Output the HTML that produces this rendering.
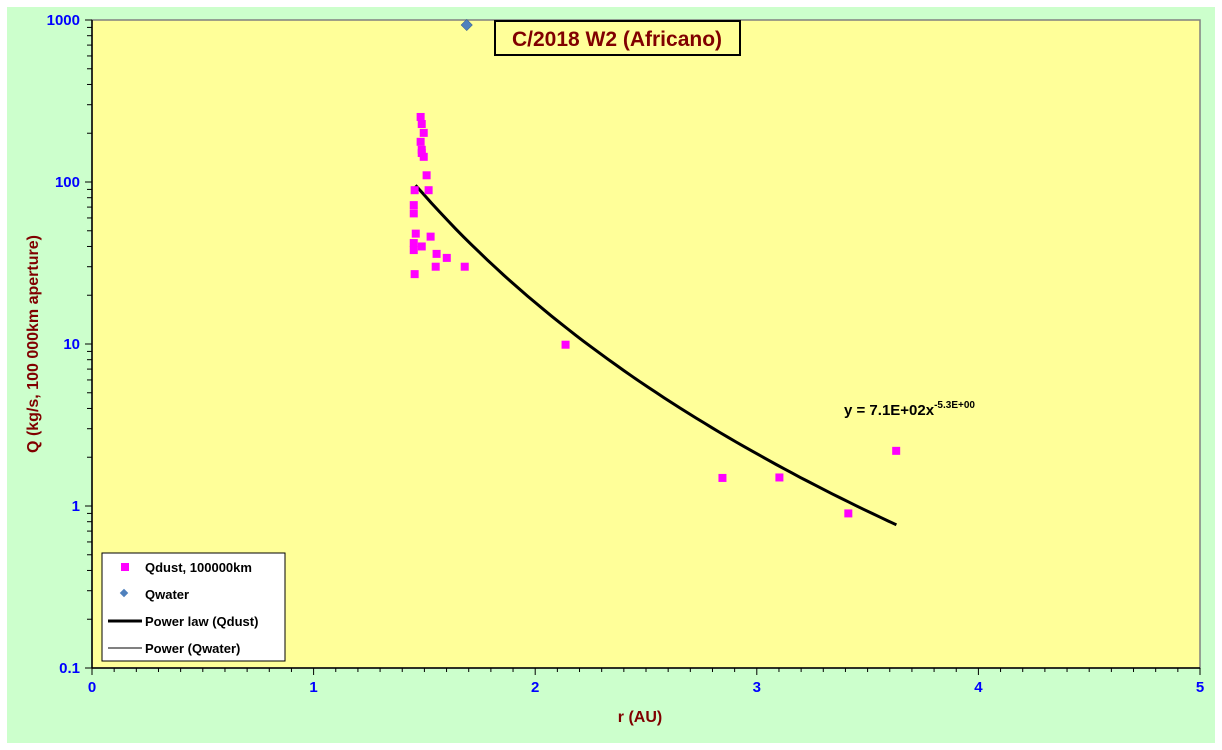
<!DOCTYPE html>
<html><head><meta charset="utf-8"><style>
body{margin:0;background:#fff;}
svg{display:block;font-family:"Liberation Sans",Arial,sans-serif;}
</style></head><body>
<svg id="chart" width="1222" height="750">
<rect x="7" y="7" width="1208" height="736" fill="#ccffcc"/>
<rect x="92" y="20" width="1108" height="648" fill="#ffff99" stroke="#808080" stroke-width="1.5"/>
<g id="axes"></g>
<g id="marks"></g>
<g>
<rect x="495" y="21" width="245" height="34" fill="#ffff99" stroke="#000" stroke-width="2"/>
<text x="617" y="46" text-anchor="middle" font-size="21" font-weight="bold" fill="#800000">C/2018 W2 (Africano)</text>
</g>
<text x="844" y="415" font-size="15" font-weight="bold" fill="#000">y = 7.1E+02x<tspan font-size="10" dy="-7">-5.3E+00</tspan></text>
<text x="640" y="722" text-anchor="middle" font-size="16" font-weight="bold" fill="#800000">r (AU)</text>
<text transform="translate(38,344) rotate(-90)" text-anchor="middle" font-size="16" font-weight="bold" fill="#800000">Q (kg/s, 100 000km aperture)</text>
<g>
<rect x="102" y="553" width="183" height="108" fill="#fff" stroke="#000" stroke-width="1"/>
<rect x="121" y="563" width="8" height="8" fill="#ff00ff"/>
<text x="145" y="572" font-size="13" font-weight="bold">Qdust, 100000km</text>
<rect x="121" y="590" width="6" height="6" fill="#4f81bd" transform="rotate(45 124 593)"/>
<text x="145" y="599" font-size="13" font-weight="bold">Qwater</text>
<line x1="108" y1="621" x2="142" y2="621" stroke="#000" stroke-width="3"/>
<text x="145" y="626" font-size="13" font-weight="bold">Power law (Qdust)</text>
<line x1="108" y1="648" x2="142" y2="648" stroke="#000" stroke-width="1"/>
<text x="145" y="653" font-size="13" font-weight="bold">Power (Qwater)</text>
</g>
</svg>
<script>
const dustR=[1.483,1.488,1.497,1.483,1.488,1.488,1.497,1.510,1.519,1.456,1.452,1.452,1.461,1.528,1.452,1.452,1.488,1.555,1.601,1.551,1.682,1.456,2.137,2.845,3.102,3.413,3.629];
const dustQ=[252,228,201,177,158,151,143,110,89,89,72,64,48,46,42,38,40,36,34,30,30,27,9.9,1.49,1.5,0.9,2.19];
const waterR=[1.691];
const waterQ=[931];
const fitA=710, fitB=-5.3, fitMin=1.46, fitMax=3.63;
const xTicks=[0,1,2,3,4,5];
const yTicks=[0.1,1,10,100,1000];
const yTickLabels=["0.1","1","10","100","1000"];

const NS="http://www.w3.org/2000/svg";
const X0=92,X1=1200,YT=20,YB=668;
const xs=v=>X0+(v/5)*(X1-X0);
const ys=v=>YB-(Math.log10(v)+1)/4*(YB-YT);
function mk(tag,attrs,parent){const e=document.createElementNS(NS,tag);for(const k in attrs)e.setAttribute(k,attrs[k]);parent.appendChild(e);return e;}
const axes=document.getElementById('axes'),marks=document.getElementById('marks');
const ax=mk('line',{x1:X0,y1:YB,x2:X1,y2:YB,stroke:'#000','stroke-width':1.5},axes);

const ay=mk('line',{x1:X0,y1:YT,x2:X0,y2:YB,stroke:'#000','stroke-width':1.5},axes);

for(let i=0;i<=50;i++){const v=i/10;const x=xs(v);mk('line',{x1:x,y1:YB,x2:x,y2:YB+(i%10==0?7:4),stroke:'#000'},axes);}
xTicks.forEach(v=>{const t=mk('text',{x:xs(v),y:YB+24,'text-anchor':'middle','font-size':15,'font-weight':'bold',fill:'#0000ff'},axes);t.textContent=v;
});
for(let d=-1;d<3;d++){for(let m=1;m<10;m++){const v=m*Math.pow(10,d);const y=ys(v);mk('line',{x1:X0-(m==1?7:5),y1:y,x2:X0,y2:y,stroke:'#000'},axes);}}
mk('line',{x1:X0-7,y1:YT,x2:X0,y2:YT,stroke:'#000'},axes);
yTicks.forEach((v,i)=>{const t=mk('text',{x:X0-12,y:ys(v)+5,'text-anchor':'end','font-size':15,'font-weight':'bold',fill:'#0000ff'},axes);t.textContent=yTickLabels[i];
});
let d='';for(let i=0;i<=60;i++){const r=fitMin+(fitMax-fitMin)*i/60;d+=(i?'L':'M')+xs(r).toFixed(1)+','+ys(fitA*Math.pow(r,fitB)).toFixed(1);}
const fl=mk('path',{d:d,fill:'none',stroke:'#000','stroke-width':3},marks);

dustR.forEach((r,i)=>{const p=mk('rect',{x:xs(r)-4,y:ys(dustQ[i])-4,width:8,height:8,fill:'#ff00ff'},marks);
});
waterR.forEach((r,i)=>{const x=xs(r),y=ys(waterQ[i]);const p=mk('rect',{x:x-4,y:y-4,width:8,height:8,fill:'#4f81bd',stroke:'#3a5f8a','stroke-width':0.5,transform:`rotate(45 ${x} ${y})`},marks);
});
</script>
</body></html>
